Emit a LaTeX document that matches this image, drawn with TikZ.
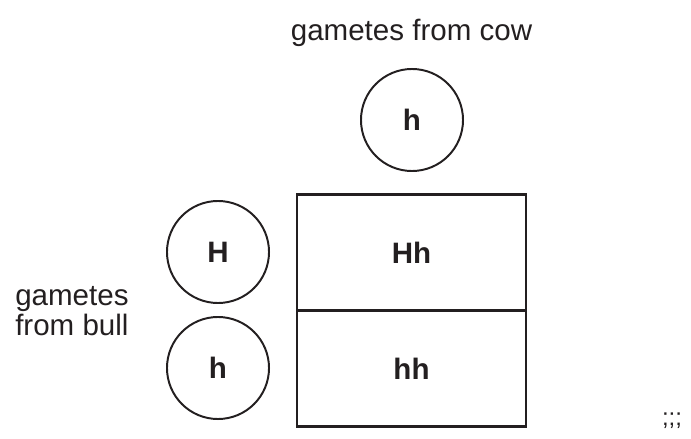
\documentclass[tikz,border=0pt]{standalone}
\usepackage{fontspec}
\setmainfont{Liberation Sans}
\definecolor{ink}{HTML}{231F20}
\tikzset{
  gamete/.style={draw=ink, line width=1.4pt, circle, minimum size=2.55cm, inner sep=0pt, font=\fontsize{21}{21}\selectfont\bfseries, text=ink},
  cell/.style={draw=ink, line width=1.6pt, rectangle, minimum width=5.725cm, minimum height=2.9cm, inner sep=0pt, font=\fontsize{21}{21}\selectfont\bfseries, text=ink},
  caption/.style={font=\fontsize{21}{21}\selectfont, text=ink, inner sep=0pt}
}
\begin{document}
\begin{tikzpicture}[x=0.025cm, y=-0.025cm]
            \useasboundingbox (0,0) rectangle (691,439);
            \node[caption, anchor=base] (cow) at (411.5,41) {gametes from cow};
            \node[gamete] (cowh) at (412,120) {h};   %cow
            \node[gamete] (bullH) at (218,252) {H};  %bull
            \node[gamete] (bullh) at (218,368) {h};
            \node[caption, anchor=base west] (bull1) at (15,305) {gametes};
            \node[caption, anchor=base west] (bull2) at (15,335) {from bull};
            \node[cell] (Hh) at (411.5,252.5) {Hh};  %offspring
            \node[cell] (hh) at (411.5,368.5) {hh};
            \node[caption, anchor=base, font=\fontsize{17}{17}\selectfont] (mark) at (672,425) {;;;};
        \end{tikzpicture}
\end{document}
